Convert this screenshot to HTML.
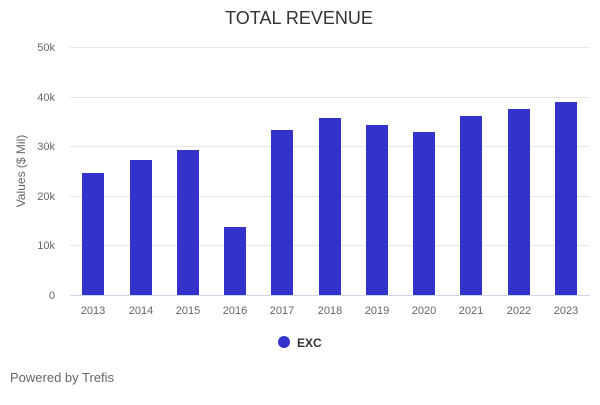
<!DOCTYPE html>
<html><head><style>
body{margin:0;background:#fff;width:600px;height:400px;overflow:hidden;font-family:"Liberation Sans",sans-serif}
</style></head><body>
<svg width="600" height="400" xmlns="http://www.w3.org/2000/svg" font-family="Liberation Sans, sans-serif">
<text x="299" y="24" font-size="18" fill="#333" text-anchor="middle">TOTAL REVENUE</text>
<g stroke="#e6e6e6" stroke-width="1">
<line x1="70" x2="590" y1="47.5" y2="47.5"/>
<line x1="70" x2="590" y1="97.5" y2="97.5"/>
<line x1="70" x2="590" y1="146.5" y2="146.5"/>
<line x1="70" x2="590" y1="196.5" y2="196.5"/>
<line x1="70" x2="590" y1="245.5" y2="245.5"/>
</g>
<line x1="70" x2="590" y1="295.5" y2="295.5" stroke="#ccd6eb"/>
<g font-size="11" fill="#666" text-anchor="end">
<text x="55" y="51">50k</text><text x="55" y="101">40k</text><text x="55" y="150">30k</text>
<text x="55" y="200">20k</text><text x="55" y="249">10k</text><text x="55" y="299">0</text>
</g>
<text transform="translate(25,171) rotate(-90)" font-size="12" fill="#666" text-anchor="middle">Values ($ Mil)</text>
<g fill="#3333cc">
<rect x="82" y="173" width="22" height="122"/>
<rect x="130" y="160" width="22" height="135"/>
<rect x="177" y="150" width="22" height="145"/>
<rect x="224" y="227" width="22" height="68"/>
<rect x="271" y="130" width="22" height="165"/>
<rect x="319" y="118" width="22" height="177"/>
<rect x="366" y="125" width="22" height="170"/>
<rect x="413" y="132" width="22" height="163"/>
<rect x="460" y="116" width="22" height="179"/>
<rect x="508" y="109" width="22" height="186"/>
<rect x="555" y="102" width="22" height="193"/>
</g>
<g font-size="11" fill="#666" text-anchor="middle">
<text x="93" y="314">2013</text><text x="141" y="314">2014</text><text x="188" y="314">2015</text>
<text x="235" y="314">2016</text><text x="282" y="314">2017</text><text x="330" y="314">2018</text>
<text x="377" y="314">2019</text><text x="424" y="314">2020</text><text x="471" y="314">2021</text>
<text x="519" y="314">2022</text><text x="566" y="314">2023</text>
</g>
<circle cx="284" cy="342" r="6" fill="#3333cc"/>
<text x="297" y="347" font-size="12" font-weight="bold" fill="#333">EXC</text>
<text x="10" y="382" font-size="13" fill="#666">Powered by Trefis</text>
</svg>
</body></html>
